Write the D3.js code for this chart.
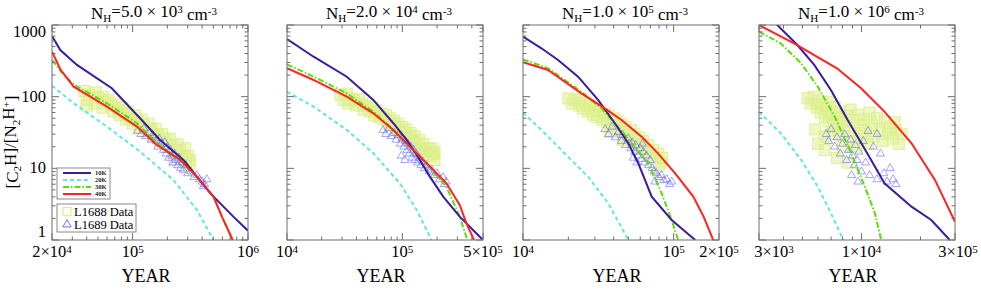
<!DOCTYPE html>
<html>
<head>
<meta charset="utf-8">
<script src="https://cdn.jsdelivr.net/npm/d3@7"></script>
<style>
  body { margin: 0; background: #fff; }
  svg { display: block; font-family: 'Liberation Serif', 'Times New Roman', serif; }
</style>
</head>
<body>
<svg id="chart" width="981" height="290"></svg>
<script>
// ---- data ----
const densMant = ['5.0', '2.0', '1.0', '1.0'];
const densExp = ['3', '4', '5', '6'];
const xDomains = [[2e4, 1e6], [1e4, 5e5], [1e4, 2e5], [3e3, 3e4]];
const xTickVals = [[2e4, 1e5, 1e6], [1e4, 1e5, 5e5], [1e4, 1e5, 2e5], [3e3, 1e4, 3e4]];
const xTickBase = [['2×10', '10', '10'], ['10', '10', '5×10'], ['10', '10', '2×10'], ['3×10', '1×10', '3×10']];
const xTickExp = [['4', '5', '6'], ['4', '5', '5'], ['4', '5', '5'], ['3', '4', '5']];
const yTicks = [1, 10, 100, 1000];
const temps = ['10K', '20K', '30K', '40K'];

// model curves [year, ratio]
const p1_10K = [[2e4,703],[23.6e3,448],[32.9e3,277],[66e3,131],[116e3,50],[173e3,24.9],[276e3,13.1],[360e3,7.66],[470e3,4.5],[746e3,2.12],[1e6,1.35]];
const p1_20K = [[2e4,142],[30.8e3,80.9],[59.9e3,38.2],[116e3,17.1],[225e3,6.9],[360e3,2.63],[502e3,1]];
const p1_30K = [[2e4,325],[25.2e3,201],[30.8e3,148],[59.9e3,80.9],[109e3,42.6],[162e3,22.5],[259e3,13.1],[360e3,7.66],[502e3,4.03],[594e3,2.12],[736e3,1]];
const p1_40K = [[2e4,425],[23.6e3,241],[30.8e3,138],[59.9e3,72.6],[109e3,38.2],[162e3,21.2],[259e3,13.1],[360e3,7.66],[502e3,4.03],[594e3,2.12],[736e3,1]];

const p2_10K = [[1e4,638],[17e3,361],[33e3,190],[56e3,90],[83.5e3,42.6],[109e3,24.9],[142e3,13.1],[173e3,7.66],[226e3,4.03],[314e3,2.12],[5e5,1]];
const p2_20K = [[1e4,117],[17e3,72.6],[33e3,34.3],[56e3,16.2],[95e3,6.19],[133e3,2.63],[179e3,1]];
const p2_30K = [[1e4,283],[17e3,190],[33e3,111],[56e3,61.8],[83.5e3,34.3],[142e3,14.6],[241e3,5.56],[314e3,2.12],[366e3,1]];
const p2_40K = [[1e4,249],[17e3,171],[33e3,100],[56e3,58.6],[83.5e3,34.3],[124e3,18.1],[173e3,10.6],[241e3,6.19],[314e3,3.09],[359e3,1.71],[418e3,1]];

const p3_10K = [[1e4,687],[13.25e3,473],[17.1e3,325],[23.2e3,190],[31.5e3,90],[40.7e3,42.6],[50e3,22.4],[58.2e3,11.8],[71.5e3,4.03],[97e3,1.9],[139e3,1]];
const p3_20K = [[1e4,59.8],[13.25e3,34.3],[18.9e3,16.2],[27e3,7.66],[36.8e3,3.26],[50e3,1]];
const p3_30K = [[1e4,332],[14.66e3,249],[24.4e3,117],[33.2e3,68.8],[40.7e3,42.6],[52.6e3,22.4],[67.8e3,11.8],[83.2e3,4.5],[97e3,1.9],[107e3,1]];
const p3_40K = [[1e4,302],[14.66e3,236],[24.4e3,111],[34.9e3,68.8],[45.1e3,47.3],[61.3e3,27.7],[78.7e3,16.2],[102e3,8.55],[135e3,4.03],[158e3,2.12],[183e3,1]];

const p4_10K = [[3.4e3,1300],[3.72e3,1000],[4.71e3,526],[5.74e3,277],[6.98e3,124],[8.5e3,47.3],[10.7e3,16.2],[13.1e3,6.19],[18e3,2.92],[22.7e3,1.9],[28.2e3,1]];
const p4_20K = [[3e3,61.8],[3.87e3,30.9],[4.92e3,13.1],[5.98e3,5.56],[6.98e3,2.37],[8.08e3,1]];
const p4_30K = [[3e3,807],[3.87e3,555],[4.92e3,292],[5.98e3,138],[7.3e3,52.6],[8.85e3,16.2],[10.4e3,5.56],[11.7e3,2.37],[12.6e3,1]];
const p4_40K = [[3e3,1000],[4.53e3,555],[7.5e3,249],[9.95e3,131],[13.1e3,61.8],[18e3,22.4],[23.7e3,6.89],[3e4,1.8]];

// observed points [year, ratio]
const p1_L1688 = [[38e3,120],[42e3,105],[40e3,90],[40e3,75],[48e3,115],[50e3,95],[47e3,80],[55e3,100],[58e3,85],[55e3,70],[62e3,90],[65e3,75],[68e3,62],[72e3,80],[75e3,65],[78e3,55],[82e3,70],[85e3,58],[88e3,48],[92e3,62],[95e3,50],[100e3,42],[105e3,55],[110e3,45],[115e3,38],[120e3,48],[125e3,40],[130e3,33],[138e3,42],[145e3,35],[150e3,28],[158e3,36],[165e3,30],[172e3,24],[180e3,30],[190e3,25],[200e3,20],[210e3,26],[220e3,21],[232e3,17],[245e3,22],[258e3,18],[270e3,15],[285e3,19],[300e3,15],[315e3,13],[290e3,12],[260e3,14],[230e3,13],[310e3,11]];
const p1_L1689 = [[110e3,33],[118e3,30],[125e3,36],[130e3,28],[140e3,31],[145e3,25],[150e3,29],[160e3,24],[165e3,20],[170e3,26],[178e3,22],[185e3,18],[190e3,23],[195e3,16],[200e3,20],[205e3,14],[212e3,18],[218e3,15],[225e3,12],[230e3,16],[238e3,13],[245e3,11],[252e3,14],[260e3,10],[268e3,12],[275e3,9.5],[290e3,11],[300e3,8.5],[320e3,9],[340e3,7.5],[360e3,8],[380e3,7],[400e3,6.5],[420e3,6],[440e3,7],[410e3,5.6]];

const p2_L1688 = [[29e3,105],[31e3,90],[33e3,110],[35e3,95],[34e3,80],[38e3,88],[40e3,75],[42e3,92],[45e3,80],[46e3,66],[50e3,75],[52e3,62],[55e3,70],[57e3,55],[60e3,64],[63e3,52],[66e3,58],[70e3,48],[72e3,55],[75e3,42],[78e3,50],[82e3,40],[85e3,46],[88e3,36],[92e3,42],[95e3,32],[100e3,38],[105e3,30],[108e3,35],[112e3,26],[118e3,31],[122e3,24],[128e3,28],[133e3,21],[140e3,25],[146e3,19],[152e3,22],[160e3,17],[168e3,19],[175e3,15],[185e3,16],[190e3,13],[150e3,15],[130e3,18],[180e3,19],[190e3,17]];
const p2_L1689 = [[68e3,34],[72e3,30],[76e3,36],[80e3,28],[85e3,31],[88e3,25],[92e3,29],[96e3,22],[100e3,26],[103e3,20],[106e3,24],[110e3,18],[112e3,22],[115e3,16],[118e3,20],[121e3,14],[125e3,18],[128e3,13],[132e3,16],[136e3,12],[140e3,14],[145e3,11],[150e3,12.5],[155e3,10],[162e3,11],[170e3,9],[180e3,9.5],[190e3,8],[200e3,8.5],[210e3,7],[225e3,7.5],[240e3,6.5],[230e3,6],[105e3,13],[98e3,15]];

const p3_L1688 = [[20e3,95],[21e3,80],[22e3,90],[23.5e3,75],[24e3,92],[25e3,68],[26e3,82],[27e3,62],[28e3,76],[29e3,56],[30e3,70],[31e3,52],[32e3,64],[33.5e3,48],[35e3,58],[36e3,44],[37e3,54],[38.5e3,40],[40e3,50],[41e3,36],[42.5e3,46],[44e3,33],[45e3,42],[47e3,30],[48e3,38],[50e3,27],[52e3,34],[53e3,24],[55e3,30],[57e3,22],[59e3,27],[61e3,19],[63e3,24],[65e3,17],[68e3,21],[70e3,15],[73e3,18],[76e3,14],[79e3,16],[82e3,12],[84e3,14],[80e3,11],[46e3,25],[38e3,32]];
const p3_L1689 = [[35e3,35],[37e3,30],[39e3,38],[41e3,27],[43e3,32],[45e3,24],[46e3,29],[48e3,21],[50e3,26],[52e3,19],[53e3,23],[55e3,17],[56e3,21],[58e3,15],[60e3,19],[61e3,13.5],[63e3,17],[64e3,12],[66e3,15],[68e3,11],[70e3,13],[72e3,10],[74e3,9],[77e3,8.5],[80e3,7.5],[83e3,8],[86e3,6.8],[90e3,7],[94e3,6],[97e3,6.5],[75e3,6.5],[57e3,12],[62e3,22],[54e3,14]];

const p4_L1688 = [[5.3e3,95],[5.5e3,80],[5.7e3,100],[5.9e3,70],[6.0e3,88],[6.2e3,60],[6.3e3,78],[6.5e3,52],[6.6e3,68],[6.8e3,45],[6.9e3,85],[7.0e3,58],[7.2e3,40],[7.3e3,72],[7.5e3,50],[7.6e3,34],[7.8e3,62],[8.0e3,44],[8.1e3,28],[8.3e3,55],[8.5e3,37],[8.7e3,24],[8.8e3,66],[9.0e3,47],[9.2e3,31],[9.4e3,20],[9.6e3,56],[9.8e3,40],[10.0e3,26],[10.3e3,48],[10.5e3,33],[10.8e3,22],[11.0e3,60],[11.3e3,40],[11.6e3,28],[12.0e3,50],[12.4e3,35],[12.8e3,24],[13.2e3,45],[13.6e3,30],[14.0e3,38],[14.5e3,26],[15.0e3,34],[15.5e3,22],[16e3,30],[14.8e3,44],[7.0e3,30],[8.0e3,20],[6.0e3,22],[6.5e3,18],[7.5e3,14],[5.8e3,35],[6.5e3,28],[8.5e3,12]];
const p4_L1689 = [[6.6e3,30],[6.8e3,24],[7.0e3,35],[7.3e3,20],[7.5e3,27],[7.8e3,16],[8.0e3,22],[8.2e3,30],[8.4e3,13],[8.6e3,18],[8.8e3,25],[9.0e3,15],[9.2e3,11],[9.3e3,21],[9.5e3,13],[9.7e3,17],[10.0e3,9],[10.2e3,24],[10.5e3,12],[11.0e3,8],[11.5e3,20],[12.0e3,7],[12.5e3,16],[13.0e3,8.5],[13.5e3,6.5],[14e3,10],[14.5e3,7],[15e3,6],[12e3,30],[10.8e3,33],[8.9e3,8],[9.6e3,6.5]];

const curves = [
  [p1_10K, p1_20K, p1_30K, p1_40K],
  [p2_10K, p2_20K, p2_30K, p2_40K],
  [p3_10K, p3_20K, p3_30K, p3_40K],
  [p4_10K, p4_20K, p4_30K, p4_40K]
];
const l1688 = [p1_L1688, p2_L1688, p3_L1688, p4_L1688];
const l1689 = [p1_L1689, p2_L1689, p3_L1689, p4_L1689];

// ---- styles ----
const lineColors = ['#3a1c9c', '#5fe8dc', '#5edc0a', '#ff2222'];
const lineDash = [null, '4,3', '6,2,1.5,2', null];
const sqColor = '#ddef8c';
const triColor = '#6a6cff';
const frameColor = '#6e6e6e';

const panelLefts = [52, 287, 523, 759];
const panelW = 196;
const plotTop = 25, plotH = 215;

const svg = d3.select('#chart');
const defs = svg.append('defs');

// text with sub/superscripts: parts = [[text, 'sub'|'sup'|null], ...]
function richText(sel, parts, small) {
  let shift = 0;
  parts.forEach(([t, kind]) => {
    const target = kind === 'sup' ? -0.4 : kind === 'sub' ? 0.3 : 0;
    const ts = sel.append('tspan').text(t).attr('dy', (target - shift) + 'em');
    if (kind) ts.style('font-size', small);
    shift = target;
  });
}

panelLefts.forEach((left, i) => {
  const x = d3.scaleLog().domain(xDomains[i]).range([left, left + panelW]);
  const y = d3.scaleLog().domain([1, 1000]).range([plotTop + plotH, plotTop]);
  const g = svg.append('g').attr('class', 'panel');

  const clipId = 'clip' + i;
  defs.append('clipPath').attr('id', clipId)
    .append('rect').attr('x', left).attr('y', plotTop).attr('width', panelW).attr('height', plotH);

  const plot = g.append('g').attr('clip-path', `url(#${clipId})`);

  // L1688 squares
  plot.append('g').selectAll('rect')
    .data(l1688[i])
    .join('rect')
    .attr('x', d => x(d[0]) - 5.5)
    .attr('y', d => y(d[1]) - 5.5)
    .attr('width', 11)
    .attr('height', 11)
    .attr('fill', sqColor)
    .attr('fill-opacity', 0.5)
    .attr('stroke', sqColor)
    .attr('stroke-opacity', 0.9)
    .attr('stroke-width', 1);

  // L1689 triangles
  plot.append('g').selectAll('path')
    .data(l1689[i])
    .join('path')
    .attr('d', d3.symbol(d3.symbolTriangle, 28))
    .attr('transform', d => `translate(${x(d[0])},${y(d[1])})`)
    .attr('fill', 'none')
    .attr('stroke', triColor)
    .attr('stroke-opacity', 0.7)
    .attr('stroke-width', 0.9);

  // model curves
  const line = d3.line().x(d => x(d[0])).y(d => y(d[1]));
  [1, 2, 0, 3].forEach(k => {
    plot.append('path')
      .attr('d', line(curves[i][k]))
      .attr('fill', 'none')
      .attr('stroke', lineColors[k])
      .attr('stroke-width', 2)
      .attr('stroke-dasharray', lineDash[k]);
  });

  // frame
  g.append('rect')
    .attr('x', left).attr('y', plotTop).attr('width', panelW).attr('height', plotH)
    .attr('fill', 'none').attr('stroke', frameColor).attr('stroke-width', 1);

  // ticks on all four sides
  const tickG = g.append('g').attr('stroke', frameColor).attr('stroke-width', 1);
  x.ticks().forEach(v => {
    const major = Math.abs(Math.log10(v) - Math.round(Math.log10(v))) < 1e-9 || xTickVals[i].includes(v);
    const len = major ? 7 : 3.5;
    tickG.append('line').attr('x1', x(v)).attr('x2', x(v)).attr('y1', plotTop + plotH).attr('y2', plotTop + plotH - len);
    tickG.append('line').attr('x1', x(v)).attr('x2', x(v)).attr('y1', plotTop).attr('y2', plotTop + len);
  });
  y.ticks().forEach(v => {
    const major = yTicks.includes(v);
    const len = major ? 7 : 3.5;
    tickG.append('line').attr('y1', y(v)).attr('y2', y(v)).attr('x1', left).attr('x2', left + len);
    tickG.append('line').attr('y1', y(v)).attr('y2', y(v)).attr('x1', left + panelW).attr('x2', left + panelW - len);
  });

  // x tick labels (the first label of the last panel sits right of its tick)
  xTickVals[i].forEach((v, j) => {
    let lx = x(v);
    if (i === 3 && j === 0) lx += 15;
    if (i === 3 && j === 2) lx += 3;
    const t = g.append('text')
      .attr('x', lx)
      .attr('y', 257)
      .attr('text-anchor', 'middle')
      .style('font-size', '16.5px');
    richText(t, [[xTickBase[i][j], null], [xTickExp[i][j], 'sup']], '11px');
  });

  g.append('text')
    .attr('x', left + panelW / 2 - 4)
    .attr('y', 282)
    .attr('text-anchor', 'middle')
    .style('font-size', '18px')
    .text('YEAR');

  // title
  const title = g.append('text')
    .attr('x', left + panelW / 2 + 4)
    .attr('y', 19)
    .attr('text-anchor', 'middle')
    .style('font-size', '17px');
  richText(title, [['N', null], ['H', 'sub'], ['=' + densMant[i] + ' × 10', null], [densExp[i], 'sup'], [' cm', null], ['-3', 'sup']], '11px');

  // y tick labels only on first panel
  if (i === 0) {
    const yLabY = { 1: 237, 10: 173, 100: 102, 1000: 37 };
    yTicks.forEach(v => {
      g.append('text')
        .attr('x', 46)
        .attr('y', yLabY[v])
        .attr('text-anchor', 'end')
        .style('font-size', '16.5px')
        .text(v);
    });
  }
});

// y axis title
const yt = svg.append('text')
  .attr('transform', 'translate(18,142) rotate(-90)')
  .attr('text-anchor', 'middle')
  .style('font-size', '17px');
richText(yt, [['[C', null], ['2', 'sub'], ['H]/[N', null], ['2', 'sub'], ['H', null], ['+', 'sup'], [']', null]], '11px');

// legend (first panel)
const leg = svg.append('g');
leg.append('rect').attr('x', 57).attr('y', 168).attr('width', 53).attr('height', 31)
  .attr('fill', '#fff').attr('stroke', '#8a8a8a');
temps.forEach((t, k) => {
  const ly = 173 + k * 7;
  leg.append('line').attr('x1', 63).attr('x2', 91).attr('y1', ly).attr('y2', ly)
    .attr('stroke', lineColors[k]).attr('stroke-width', 2).attr('stroke-dasharray', lineDash[k]);
  leg.append('text').attr('x', 95).attr('y', ly + 2.3)
    .style('font-size', '6.5px').style('font-weight', 'bold').attr('fill', '#222').text(t);
});
leg.append('rect').attr('x', 57).attr('y', 204).attr('width', 79).attr('height', 28)
  .attr('fill', '#fff').attr('stroke', '#8a8a8a');
leg.append('rect').attr('x', 63).attr('y', 207.5).attr('width', 8).attr('height', 8)
  .attr('fill', 'none').attr('stroke', sqColor).attr('stroke-width', 1.2);
leg.append('path').attr('d', d3.symbol(d3.symbolTriangle, 30))
  .attr('transform', 'translate(67,224.5)')
  .attr('fill', 'none').attr('stroke', triColor).attr('stroke-width', 1);
leg.append('text').attr('x', 74).attr('y', 216).style('font-size', '12.5px').text('L1688 Data');
leg.append('text').attr('x', 74).attr('y', 229).style('font-size', '12.5px').text('L1689 Data');
</script>
</body>
</html>
